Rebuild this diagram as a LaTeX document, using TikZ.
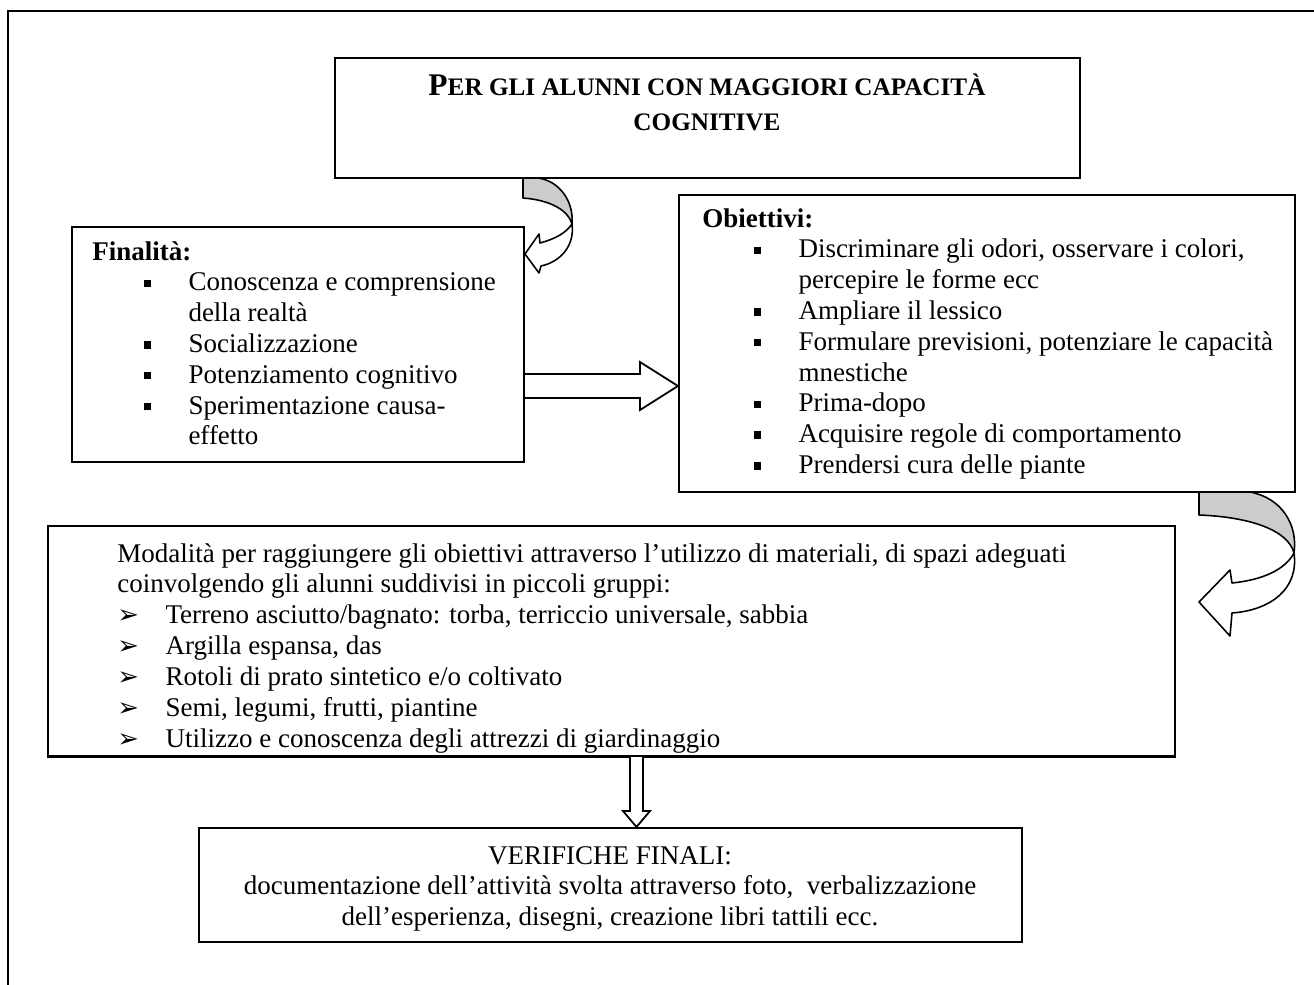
\documentclass[tikz,border=0pt]{standalone}
\usepackage{fontspec}
\setmainfont{Liberation Serif}
\newfontfamily\dingfont{DejaVu Sans}
\usetikzlibrary{calc,positioning,fit}

\newcommand{\qbul}{\raisebox{1.7pt}{\rule{3.3pt}{3.3pt}}}
\newcommand{\fitem}{\hspace*{22.7pt}\makebox[20pt][l]{\qbul}}
\newcommand{\fcont}{\hspace*{42.7pt}}
\newcommand{\mitem}{\makebox[21.4pt][l]{{\dingfont\fontsize{11.5}{11}\selectfont ➢}}}
\newcommand{\scaps}[1]{{\fontsize{11.2}{15.7}\selectfont #1}}

\begin{document}
\begin{tikzpicture}[x=0.4445pt, y=-0.4445pt,
        box/.style={draw, line width=0.9pt, inner sep=0pt},
        txt/.style={inner sep=0pt, anchor=base west, font=\fontsize{12}{13.7}\selectfont},
        ribbon/.style={draw, line width=0.7pt, fill=white, line join=round},
        ribbonback/.style={draw, line width=0.7pt, fill=black!20, line join=round},
        blockarrow/.style={draw, line width=0.8pt, fill=white}
    ]
    \useasboundingbox (0,0) rectangle (1314,985);

    % ---- cornice ----
    \draw[line width=1.2pt] (1314,11) -- (8,11) -- (8,985);

    % ---- titolo ----
    \node[box, fit={(335,58) (1080,178)}] (titolo) {};
    \node[txt, anchor=base] (titolotxt) at (707,95) {\parbox[t]{330pt}{\centering\bfseries
        \fontsize{14}{15.7}\selectfont P\scaps{ER GLI ALUNNI CON MAGGIORI CAPACITÀ}\\ \scaps{COGNITIVE}}};

    % ---- Finalita ----
    \node[box, fit={(72,227) (524,462)}] (finalita) {};
    \node[txt] (finalitatxt) at (92,260) {\parbox[t]{200pt}{\raggedright
        \textbf{Finalità:}\\
        \fitem Conoscenza e comprensione\\
        \fcont della realtà\\
        \fitem Socializzazione\\
        \fitem Potenziamento cognitivo\\
        \fitem Sperimentazione causa-\\
        \fcont effetto}};

    % ---- Obiettivi ----
    \node[box, fit={(679,195) (1295,492)}] (obiettivi) {};
    \node[txt] (obiettivitxt) at (702,227) {\parbox[t]{270pt}{\raggedright
        \textbf{Obiettivi:}\\
        \fitem Discriminare gli odori, osservare i colori,\\
        \fcont percepire le forme ecc\\
        \fitem Ampliare il lessico\\
        \fitem Formulare previsioni, potenziare le capacità\\
        \fcont mnestiche\\
        \fitem Prima-dopo\\
        \fitem Acquisire regole di comportamento\\
        \fitem Prendersi cura delle piante}};

    % ---- Modalita (ultima riga tagliata dal bordo) ----
    \node[box, fit={(48,526) (1175,756)}] (modalita) {};
    \begin{scope}
        \clip (modalita.north west) rectangle (modalita.south east);
        \node[txt] (modalitatxt) at (117,562) {\parbox[t]{480pt}{\raggedright
            \fontsize{12}{13.75}\selectfont
            Modalità per raggiungere gli obiettivi attraverso l’utilizzo di materiali, di spazi adeguati\\
            coinvolgendo gli alunni suddivisi in piccoli gruppi:\\
            \mitem Terreno asciutto/bagnato: torba, terriccio universale, sabbia\\
            \mitem Argilla espansa, das\\
            \mitem Rotoli di prato sintetico e/o coltivato\\
            \mitem Semi, legumi, frutti, piantine\\
            \mitem Utilizzo e conoscenza degli attrezzi di giardinaggio}};
    \end{scope}
    \draw[line width=0.9pt] (modalita.south west) -- (modalita.south east);

    % ---- Verifiche ----
    \node[box, fit={(199,828) (1022,942)}] (verifiche) {};
    \node[txt, anchor=base] (verifichetxt) at (610,864) {\parbox[t]{390pt}{\centering
        VERIFICHE FINALI:\\
        documentazione dell’attività svolta attraverso foto,\ \ verbalizzazione\\
        dell’esperienza, disegni, creazione libri tattili ecc.}};

    % Freccia curva: titolo -> Finalita
    \draw[ribbonback] (523,178) -- (523,198) .. controls (550,200) and (568,210) .. (572,224)
        .. controls (574,202) and (560,181) .. (538,178) -- cycle;
    \draw[ribbon] (572,224) .. controls (566,233) and (555,239) .. (540,243) -- (539,234)
        -- (525,254) -- (539,273) -- (541,266) .. controls (560,262) and (575,246) .. cycle;

    % Freccia curva: Obiettivi -> Modalita
    \draw[ribbonback] (1199,492) -- (1199,515) .. controls (1250,517) and (1288,530) .. (1294,553)
        .. controls (1298,525) and (1282,498) .. (1250,492) -- cycle;
    \draw[ribbon] (1294,553) .. controls (1285,570) and (1262,580) .. (1232,583) -- (1230,570)
        -- (1199,602) -- (1230,636) -- (1232,613) .. controls (1272,610) and (1299,588) .. cycle;

    % Freccia: Finalita -> Obiettivi
    \draw[blockarrow] (finalita.east |- 0,374) -- (640,374) -- (640,362) -- (obiettivi.west |- 0,386)
        -- (640,410) -- (640,398) -- (finalita.east |- 0,398);

    % Freccia: Modalita -> Verifiche
    \draw[blockarrow] (630,0 |- modalita.south) -- (630,811) -- (623,811) -- (636.5,0 |- verifiche.north)
        -- (650,811) -- (643,811) -- (643,0 |- modalita.south);
\end{tikzpicture}
\end{document}
